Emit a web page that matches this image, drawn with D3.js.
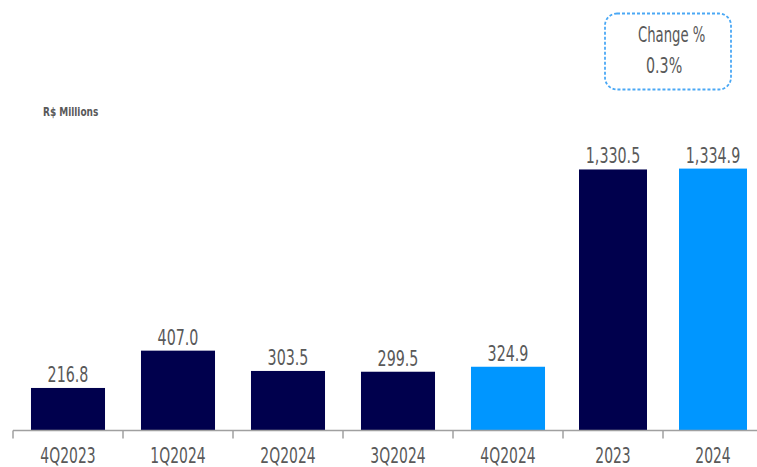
<!DOCTYPE html>
<html><head><meta charset="utf-8">
<script src="https://cdn.jsdelivr.net/npm/d3@7"></script>
<style>
html,body{margin:0;padding:0;background:#fff;}
svg{display:block;}
text{font-family:"DejaVu Sans",sans-serif;}
</style></head>
<body>
<svg id="chart" width="757" height="467"></svg>
<script>
// Data
const quarterCategories = ["4Q2023","1Q2024","2Q2024","3Q2024","4Q2024"];
const quarterValues = [216.8, 407.0, 303.5, 299.5, 324.9];
const quarterHighlight = [false, false, false, false, true];
const yearCategories = ["2023","2024"];
const yearValues = [1330.5, 1334.9];
const yearHighlight = [false, true];
const unitLabel = "R$ Millions";
const changeTitle = "Change %";
const changeValue = "0.3%";

const dark = "#00004d", light = "#0096ff", textCol = "#595959", axisCol = "#a0a0a0";
const SX = 0.68;
const svg = d3.select("#chart");
const baseY = 430.5;

const y = d3.scaleLinear().domain([0, 1500]).range([baseY, baseY - 1500 * 0.1962]);
const xQ = d3.scaleBand().domain(quarterCategories).range([13, 563]).paddingInner(0.327).paddingOuter(0.1635);
const xY = d3.scaleBand().domain(yearCategories).range([563, 763]).paddingInner(0.32).paddingOuter(0.16);

const fmt = d3.format(",.1f");

function label(g, x, yy, txt, size, sx, anchor, weight) {
  g.append("text").attr("transform", `translate(${x},${yy}) scale(${sx},1)`)
    .attr("text-anchor", anchor || "middle").attr("font-size", size)
    .attr("font-weight", weight || null).attr("fill", textCol).text(txt);
}

function drawGroup(cats, vals, hl, x) {
  const data = cats.map((c, i) => ({c, v: vals[i], h: hl[i]}));
  svg.append("g").selectAll("rect").data(data).join("rect")
    .attr("x", d => x(d.c)).attr("width", x.bandwidth())
    .attr("y", d => y(d.v)).attr("height", d => baseY - y(d.v))
    .attr("fill", d => d.h ? light : dark);
  const lg = svg.append("g");
  data.forEach(d => label(lg, x(d.c) + x.bandwidth() / 2, y(d.v) - 6, fmt(d.v), 21, SX));
  const ax = svg.append("g").attr("transform", `translate(0,${baseY})`)
    .call(d3.axisBottom(x).tickSize(0).tickPadding(0));
  ax.select(".domain").remove();
  ax.selectAll("text").attr("font-size", 20.5).attr("fill", textCol)
    .attr("font-family", null).attr("dy", null).attr("y", 0)
    .attr("transform", `translate(0,32) scale(${SX},1)`);
  // boundary ticks
  const half = (x.step() - x.bandwidth()) / 2;
  const tickPos = cats.map(c => x(c) - half);
  svg.append("g").selectAll("line").data(tickPos).join("line")
    .attr("x1", d => d).attr("x2", d => d)
    .attr("y1", baseY).attr("y2", baseY + 8)
    .attr("stroke", axisCol).attr("stroke-width", 1.5);
}

drawGroup(quarterCategories, quarterValues, quarterHighlight, xQ);
drawGroup(yearCategories, yearValues, yearHighlight, xY);

// axis line
svg.append("line").attr("x1", 13).attr("x2", 757).attr("y1", baseY).attr("y2", baseY)
  .attr("stroke", axisCol).attr("stroke-width", 1.5);

// unit label
label(svg, 43, 116, unitLabel, 11.5, 0.78, "start", "bold");

// change box
svg.append("rect").attr("x", 605).attr("y", 13.5).attr("width", 126).attr("height", 76)
  .attr("rx", 12).attr("fill", "none").attr("stroke", "#4aa8f5")
  .attr("stroke-width", 1.8).attr("stroke-dasharray", "3,2");
label(svg, 638, 42, changeTitle, 21, 0.63, "start");
label(svg, 646, 73, changeValue, 21, SX, "start");
</script>
</body></html>
